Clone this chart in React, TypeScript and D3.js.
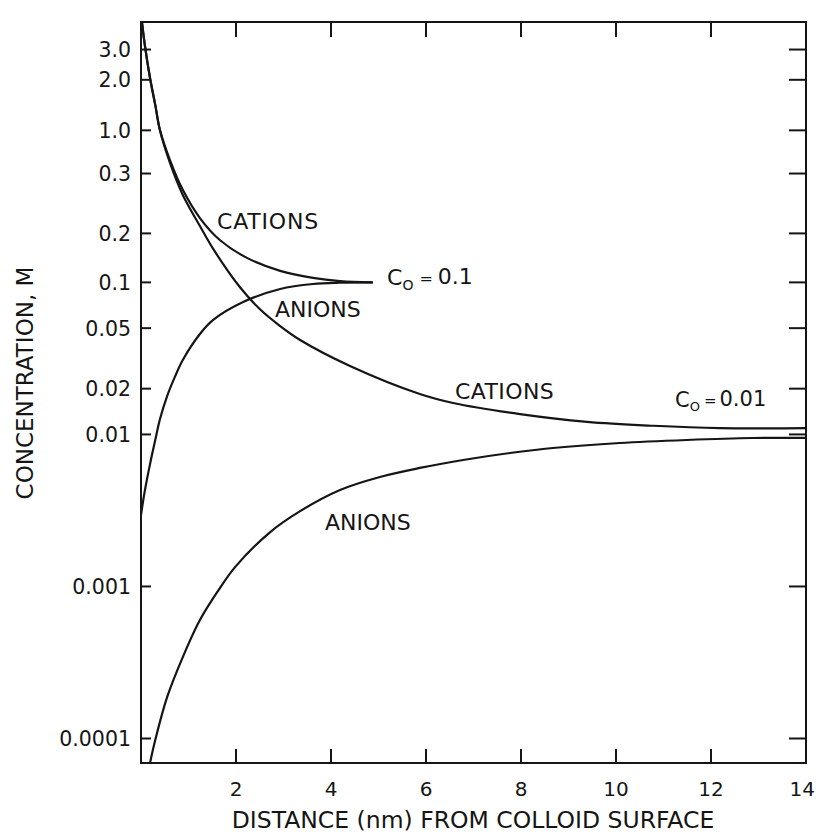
import React from "react";
import * as d3 from "d3";

// ---- data ----
const xTickValues = [2, 4, 6, 8, 10, 12];
const xTickLabels = [2, 4, 6, 8, 10, 12, 14];
const yTickLabels = ["3.0", "2.0", "1.0", "0.3", "0.2", "0.1", "0.05", "0.02", "0.01", "0.001", "0.0001"];
// where each printed label sits on the concentration axis
const yTickValues = [3.4, 2.15, 1, 0.52, 0.21, 0.1, 0.05, 0.02, 0.01, 0.001, 0.0001];

// C0 = 0.01 M, cations
const cat001X = [0.02, 0.08, 0.19, 0.3, 0.4, 0.61, 0.88, 1.24, 1.52, 2.08, 2.5, 2.93, 3.35, 4.4, 5.87, 6.57, 7.98, 9.39, 10.78, 12.19, 14];
const cat001C = [5.16, 3.65, 2.21, 1.47, 1.0, 0.61, 0.376, 0.235, 0.166, 0.0932, 0.0668, 0.0516, 0.0418, 0.0282, 0.01845, 0.0161, 0.0136, 0.0121, 0.0114, 0.011, 0.011];
// C0 = 0.01 M, anions
const an001X = [0.19, 0.3, 0.55, 0.88, 1.24, 1.62, 1.98, 2.72, 3.35, 4.19, 5.03, 5.87, 6.78, 7.77, 8.67, 10.08, 11.49, 12.88, 14];
const an001C = [6.9e-5, 9.76e-5, 1.87e-4, 3.43e-4, 6.01e-4, 9.33e-4, 1.34e-3, 2.28e-3, 3.13e-3, 4.31e-3, 5.25e-3, 6.02e-3, 6.79e-3, 7.55e-3, 8.14e-3, 8.78e-3, 9.19e-3, 9.47e-3, 9.5e-3];
// C0 = 0.1 M, cations
const cat01X = [0.02, 0.08, 0.19, 0.3, 0.4, 0.61, 0.88, 1.24, 1.66, 2.23, 2.93, 3.62, 4.19, 4.88];
const cat01C = [5.16, 3.65, 2.21, 1.47, 1.0, 0.638, 0.406, 0.265, 0.19, 0.145, 0.119, 0.107, 0.102, 0.1];
// C0 = 0.1 M, anions
const an01X = [0, 0.08, 0.19, 0.3, 0.4, 0.55, 0.72, 0.88, 1.24, 1.52, 2.15, 2.93, 3.62, 4.19, 4.88];
const an01C = [0.00295, 0.00425, 0.00638, 0.00919, 0.01263, 0.01789, 0.0242, 0.0309, 0.0458, 0.0567, 0.0743, 0.0905, 0.0976, 0.0995, 0.1];

const W = 816;
const H = 834;
const L = 141, R = 806, T = 22, B = 763;
const FONT = "DejaVu Sans, Verdana, sans-serif";
const INK = "#151515";

export default function App() {
  const x = d3.scaleLinear().domain([0, 14]).range([L, R]);
  const y = d3.scaleLog().domain([6.9e-5, 5.16]).range([B, T]);
  const line = d3
    .line<[number, number]>()
    .x((d) => x(d[0]))
    .y((d) => y(d[1]))
    .curve(d3.curveCatmullRom.alpha(0.5));
  const zip = (xs: number[], cs: number[]) => xs.map((v, i) => [v, cs[i]] as [number, number]);
  const series = [zip(cat001X, cat001C), zip(an001X, an001C), zip(cat01X, cat01C), zip(an01X, an01C)];

  return (
    <svg
      width={W}
      height={H}
      style={{ position: "absolute", left: 0, top: 0, display: "block", background: "#fff" }}
    >
      <defs>
        <clipPath id="plot">
          <rect x={L} y={T} width={R - L} height={B - T} />
        </clipPath>
      </defs>
      <rect x={0} y={0} width={W} height={H} fill="#fff" />

      {/* curves */}
      <g clipPath="url(#plot)" fill="none" stroke={INK} strokeWidth={2.2}>
        {series.map((s, i) => (
          <path key={i} d={line(s) || ""} />
        ))}
      </g>

      {/* frame */}
      <rect x={L} y={T} width={R - L} height={B - T} fill="none" stroke={INK} strokeWidth={2} />

      {/* ticks */}
      <g stroke={INK} strokeWidth={2}>
        {yTickValues.map((v, i) => (
          <g key={i}>
            <line x1={L} x2={L + 10} y1={y(v)} y2={y(v)} />
            <line x1={R} x2={R - 17} y1={y(v)} y2={y(v)} />
          </g>
        ))}
        {xTickValues.map((v, i) => (
          <g key={i}>
            <line x1={x(v)} x2={x(v)} y1={B} y2={B - 14} />
            <line x1={x(v)} x2={x(v)} y1={T} y2={T + 15} />
          </g>
        ))}
      </g>

      {/* tick labels */}
      <g fontFamily={FONT} fill={INK} fontSize={20.5}>
        {yTickValues.map((v, i) => (
          <text key={i} x={L - 10} y={y(v)} dy="0.36em" textAnchor="end">
            {yTickLabels[i]}
          </text>
        ))}
        {xTickLabels.map((v, i) => {
          const last = i === xTickLabels.length - 1;
          return (
            <text
              key={i}
              x={last ? W - 1 : x(v)}
              y={796}
              textAnchor={last ? "end" : "middle"}
              fontSize={20}
            >
              {v}
            </text>
          );
        })}
      </g>

      {/* axis titles */}
      <text x={473} y={828} textAnchor="middle" fontFamily={FONT} fontSize={23.5} fill={INK}>
        DISTANCE (nm) FROM COLLOID SURFACE
      </text>
      <text
        transform="translate(33,383) rotate(-90)"
        textAnchor="middle"
        fontFamily={FONT}
        fontSize={23}
        fill={INK}
      >
        CONCENTRATION, M
      </text>

      {/* curve labels */}
      <g fontFamily={FONT} fill={INK} fontSize={22}>
        <text x={217} y={229} letterSpacing={0.8}>CATIONS</text>
        <text x={275} y={317}>ANIONS</text>
        <text x={455} y={399} letterSpacing={0.4}>CATIONS</text>
        <text x={325} y={530}>ANIONS</text>
        <text x={387} y={285}>
          C
          <tspan fontSize={14} dy={5}>O</tspan>
          <tspan fontSize={16} dx={6} dy={-6}>=</tspan>
          <tspan dx={5}>0.1</tspan>
        </text>
        <text x={675} y={407} fontSize={21}>
          C
          <tspan fontSize={13} dy={4}>O</tspan>
          <tspan fontSize={15} dx={4} dy={-5}>=</tspan>
          <tspan dx={3}>0.01</tspan>
        </text>
      </g>
    </svg>
  );
}
